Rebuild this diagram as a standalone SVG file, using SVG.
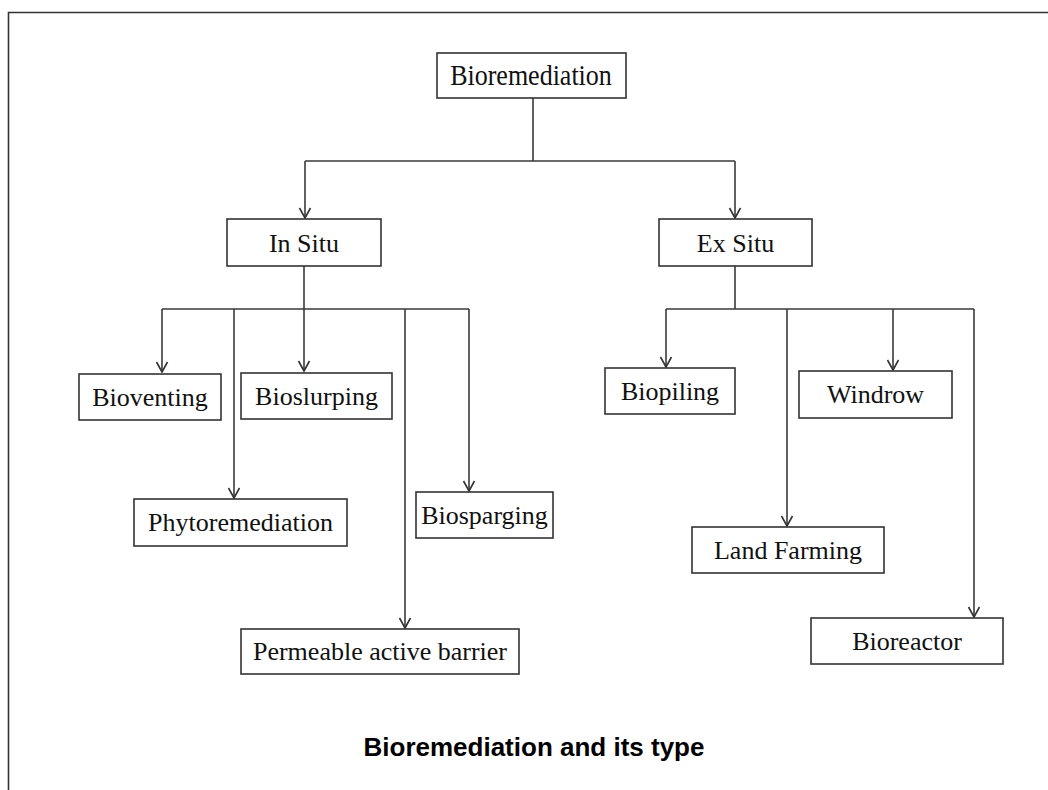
<svg xmlns="http://www.w3.org/2000/svg" width="1048" height="790" viewBox="0 0 1048 790">
  <style>
    .box { fill: #ffffff; stroke: #333333; stroke-width: 1.6; }
    .lbl { font-family: "Liberation Serif", "Times New Roman", serif; font-size: 26px; fill: #111111; text-anchor: middle; }
    .wire { fill: none; stroke: #3a3a3a; stroke-width: 1.6; }
    .title { font-family: "Liberation Sans", Arial, sans-serif; font-size: 26px; font-weight: bold; fill: #000000; text-anchor: middle; }
  </style>
  <defs>
    <marker id="arrow" viewBox="-11 -7 13 14" refX="0" refY="0" markerWidth="13" markerHeight="14" markerUnits="userSpaceOnUse" orient="auto">
      <path d="M-10,-5.5 L0,0 L-10,5.5" fill="none" stroke="#333333" stroke-width="1.6"/>
    </marker>
  </defs>

  <rect width="1048" height="790" fill="#ffffff"/>
  <!-- page frame -->
  <path d="M8.5,790 V12.5 H1048" fill="none" stroke="#333333" stroke-width="1.6"/>

  <g id="connectors">
    <!-- root split -->
    <path class="wire" d="M533,98 V161 M305,161 H735"/>
    <path class="wire" d="M305,161 V218" marker-end="url(#arrow)"/>
    <path class="wire" d="M735,161 V218" marker-end="url(#arrow)"/>
    <!-- in situ branches -->
    <path class="wire" d="M304,266 V309 M162,309 H469"/>
    <path class="wire" d="M162,309 V372" marker-end="url(#arrow)"/>
    <path class="wire" d="M304,309 V371" marker-end="url(#arrow)"/>
    <path class="wire" d="M234,309 V498" marker-end="url(#arrow)"/>
    <path class="wire" d="M405,309 V628" marker-end="url(#arrow)"/>
    <path class="wire" d="M469,309 V491" marker-end="url(#arrow)"/>
    <!-- ex situ branches -->
    <path class="wire" d="M735,266 V309 M666,309 H974"/>
    <path class="wire" d="M666,309 V367" marker-end="url(#arrow)"/>
    <path class="wire" d="M787,309 V526" marker-end="url(#arrow)"/>
    <path class="wire" d="M893,309 V370" marker-end="url(#arrow)"/>
    <path class="wire" d="M974,309 V617" marker-end="url(#arrow)"/>
  </g>

  <g id="bioremediation">
    <rect class="box" x="437" y="53" width="189" height="45"/>
    <text class="lbl" x="531" y="85" transform="translate(0,-13.6) scale(1,1.16)">Bioremediation</text>
  </g>
  <g id="in-situ">
    <rect class="box" x="227" y="219" width="154" height="47"/>
    <text class="lbl" x="304" y="252">In Situ</text>
  </g>
  <g id="ex-situ">
    <rect class="box" x="659" y="219" width="153" height="47"/>
    <text class="lbl" x="735.5" y="252">Ex Situ</text>
  </g>
  <g id="bioventing">
    <rect class="box" x="79" y="374" width="142" height="46"/>
    <text class="lbl" x="150" y="406">Bioventing</text>
  </g>
  <g id="bioslurping">
    <rect class="box" x="241" y="373" width="151" height="46"/>
    <text class="lbl" x="316.5" y="405">Bioslurping</text>
  </g>
  <g id="phytoremediation">
    <rect class="box" x="134" y="499" width="213" height="47"/>
    <text class="lbl" x="240.5" y="531">Phytoremediation</text>
  </g>
  <g id="biosparging">
    <rect class="box" x="416" y="492" width="137" height="46"/>
    <text class="lbl" x="484.5" y="524">Biosparging</text>
  </g>
  <g id="permeable-active-barrier">
    <rect class="box" x="241" y="629" width="278" height="45"/>
    <text class="lbl" x="380" y="660">Permeable active barrier</text>
  </g>
  <g id="biopiling">
    <rect class="box" x="605" y="368" width="130" height="46"/>
    <text class="lbl" x="670" y="400">Biopiling</text>
  </g>
  <g id="windrow">
    <rect class="box" x="799" y="371" width="153" height="47"/>
    <text class="lbl" x="875.5" y="403">Windrow</text>
  </g>
  <g id="land-farming">
    <rect class="box" x="692" y="527" width="192" height="46"/>
    <text class="lbl" x="788" y="559">Land Farming</text>
  </g>
  <g id="bioreactor">
    <rect class="box" x="811" y="618" width="192" height="46"/>
    <text class="lbl" x="907" y="650">Bioreactor</text>
  </g>

  <text class="title" x="534" y="756">Bioremediation and its type</text>
</svg>
